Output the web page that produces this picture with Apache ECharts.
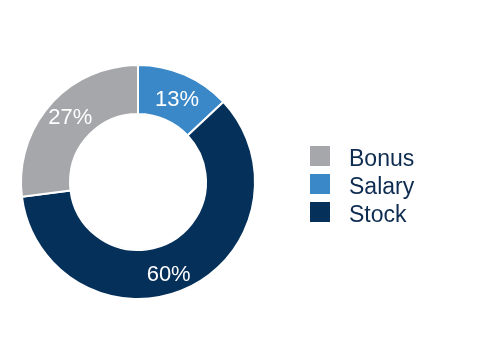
<!DOCTYPE html>
<html><head><meta charset="utf-8">
<script src="https://cdn.jsdelivr.net/npm/echarts@6/dist/echarts.min.js"></script>
<style>html,body{margin:0;padding:0;background:#fff}#c{width:480px;height:364px}</style>
</head><body><div id="c"></div>
<script>
const categories = ['Salary', 'Stock', 'Bonus'];
const values = [13, 60, 27];
const legendOrder = ['Bonus', 'Salary', 'Stock'];
const colors = {Salary: '#3A88C8', Stock: '#05305A', Bonus: '#A6A7AA'};
const labelOffsets = {Salary: [1, 6], Stock: [-10, 7], Bonus: [4, -1]};

const FONT = 'Liberation Sans, Arial, sans-serif';
const chart = echarts.init(document.getElementById('c'), null, {renderer: 'canvas'});
chart.setOption({
  animation: false,
  textStyle: {fontFamily: FONT},
  legend: [{
    orient: 'vertical', left: 310, top: 146, padding: 0,
    data: legendOrder,
    icon: 'rect', itemWidth: 20, itemHeight: 20, itemGap: 8,
    itemStyle: {borderWidth: 0},
    formatter: function () { return ''; },
    textStyle: {fontSize: 1, lineHeight: 1}
  }, {
    orient: 'vertical', left: 344, top: 148.5, padding: 0,
    data: legendOrder,
    icon: 'none', itemWidth: 0, itemHeight: 20, itemGap: 5,
    textStyle: {fontSize: 23, color: '#0E2C50', fontFamily: FONT, lineHeight: 20}
  }],
  series: [{
    type: 'pie',
    center: [138, 182],
    radius: [68, 117],
    startAngle: 90,
    clockwise: true,
    data: categories.map((c, i) => ({
      name: c, value: values[i], itemStyle: {color: colors[c]},
      label: {offset: labelOffsets[c]}
    })),
    itemStyle: {borderColor: '#fff', borderWidth: 2},
    label: {
      show: true, position: 'inside', formatter: '{c}%',
      color: '#fff', fontSize: 22, fontFamily: FONT
    },
    labelLine: {show: false},
    emphasis: {disabled: true}
  }]
});
</script></body></html>
